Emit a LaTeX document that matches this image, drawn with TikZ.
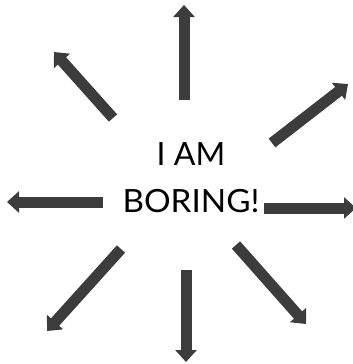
\documentclass[tikz,border=0pt]{standalone}
\usepackage{fontspec}
\setmainfont{Lato}
\usetikzlibrary{arrows.meta}
\definecolor{arrowgray}{HTML}{3C3C3C}

\begin{document}
\begin{tikzpicture}[x=1pt,y=-1pt,
  ray/.style={arrowgray,line width=11pt,-{Triangle[length=12pt,width=21pt]}},
  label/.style={font=\fontsize{32}{47}\selectfont,text=black,inner sep=0pt}]
\useasboundingbox (0,0) rectangle (353,364);
% text in the middle
\node[label,anchor=base] (iam) at (191,165) {I AM};
\node[label,anchor=base,xscale=1.04] (boring) at (191,212) {BORING!};
% end points of the rays
\coordinate (n0) at (184,100);  \coordinate (n1) at (184,5);
\coordinate (nw0) at (113,118); \coordinate (nw1) at (54,52);
\coordinate (ne0) at (272,143); \coordinate (ne1) at (348,84);
\coordinate (w0) at (103,202);  \coordinate (w1) at (7,202);
\coordinate (e0) at (264,208);  \coordinate (e1) at (356,208);
\coordinate (sw0) at (121,249); \coordinate (sw1) at (47,331);
\coordinate (s0) at (186,270);  \coordinate (s1) at (186,362);
\coordinate (se0) at (236,245); \coordinate (se1) at (306,324);
\foreach \d in {n,nw,ne,w,e,sw,s,se}
  \draw[ray] (\d0) -- (\d1);
\end{tikzpicture}
\end{document}
